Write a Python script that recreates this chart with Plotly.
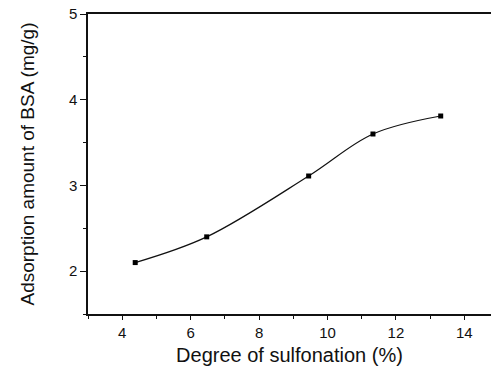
import plotly.graph_objects as go

sulfonation = [4.38, 6.47, 9.45, 11.33, 13.31]
bsa_adsorption = [2.10, 2.40, 3.11, 3.60, 3.81]
x_title = "Degree of sulfonation (%)"
y_title = "Adsorption amount of BSA (mg/g)"

FONT = "Liberation Sans, Arial, sans-serif"

fig = go.Figure()
fig.add_trace(go.Scatter(
    x=sulfonation, y=bsa_adsorption,
    mode="lines+markers",
    line=dict(shape="spline", smoothing=1.0, color="#111", width=1.2),
    marker=dict(symbol="square", size=5, color="#000"),
    showlegend=False,
))

fig.update_layout(
    width=491, height=372,
    margin=dict(l=88, r=0, t=14, b=58),
    paper_bgcolor="white", plot_bgcolor="white",
    font=dict(family=FONT, color="#111", size=15),
    xaxis=dict(
        range=[3, 14.78], tick0=0, dtick=2,
        showline=True, linecolor="#111", linewidth=1.5, mirror=True,
        ticks="outside", ticklen=4, tickwidth=1, tickcolor="#111",
        minor=dict(ticks="outside", ticklen=3, dtick=1, tick0=0, tickcolor="#111"),
        showgrid=False, zeroline=False,
        tickfont=dict(size=15),
        title=dict(text=x_title, font=dict(size=20), standoff=8),
    ),
    yaxis=dict(
        range=[1.5, 5], tick0=0, dtick=1,
        showline=True, linecolor="#111", linewidth=1.5, mirror=False,
        ticks="outside", ticklen=6, tickwidth=1, tickcolor="#111",
        minor=dict(ticks="outside", ticklen=3, dtick=0.5, tick0=0, tickcolor="#111"),
        showgrid=False, zeroline=False,
        tickfont=dict(size=15), ticklabelstandoff=0,
        title=dict(text=y_title, font=dict(size=19), standoff=29),
    ),
)

fig.write_html("out.html")
